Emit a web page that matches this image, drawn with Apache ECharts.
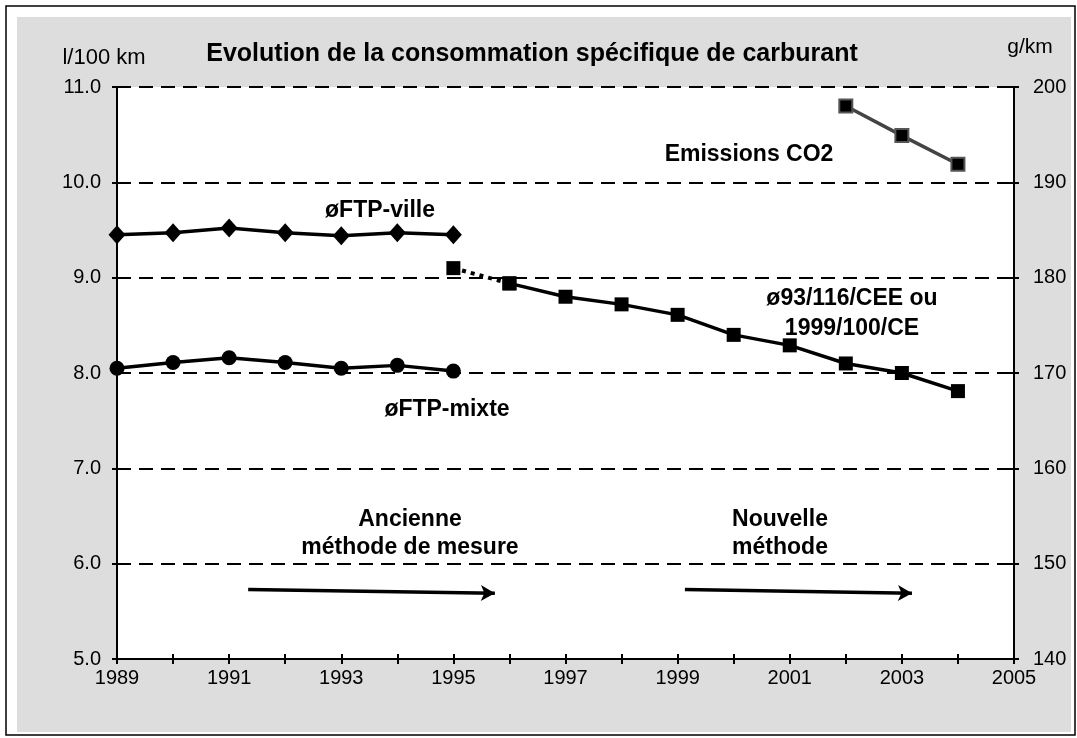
<!DOCTYPE html>
<html lang="fr">
<head>
    <meta charset="UTF-8">
    <title>Consommation spécifique de carburant</title>
    <script src="https://cdn.jsdelivr.net/npm/echarts@6.0.0/dist/echarts.min.js"></script>
    <style>
        html, body { margin: 0; padding: 0; background: #fff; }
        #chart { width: 1077px; height: 738px; }
    </style>
</head>
<body>
<div id="chart"></div>
<script>
    // données
    const oldYears = [1989, 1990, 1991, 1992, 1993, 1994, 1995];
    const ftpVille = [9.45, 9.47, 9.52, 9.47, 9.44, 9.47, 9.45];
    const ftpMixte = [8.05, 8.11, 8.16, 8.11, 8.05, 8.08, 8.02];

    const transYears = [1995, 1996];
    const transValues = [9.10, 8.94];

    const newYears = [1996, 1997, 1998, 1999, 2000, 2001, 2002, 2003, 2004];
    const newMethod = [8.94, 8.80, 8.72, 8.61, 8.40, 8.29, 8.10, 8.00, 7.81];

    const co2Years = [2002, 2003, 2004];
    const co2Values = [198.0, 194.9, 191.9];

    // flèches "ancienne / nouvelle méthode" (en coordonnées des axes)
    const arrowOld = [[1991.34, 5.73], [1995.74, 5.69]];
    const arrowNew = [[1999.13, 5.73], [2003.18, 5.69]];

    const leftTicks = [5, 11, 1];
    const rightTicks = [140, 200, 10];
    const xRange = [1989, 2005];

    const font = 'Liberation Sans, Arial, sans-serif';

    function pairs(xs, ys) {
        return xs.map((x, i) => [x, ys[i]]);
    }

    function note(x, y, text, size, bold) {
        return {
            type: 'text', x: x, y: y,
            style: {
                text: text, font: (bold ? 'bold ' : '') + size + 'px ' + font,
                fill: '#000', align: 'center', verticalAlign: 'middle'
            }
        };
    }

    const chart = echarts.init(document.getElementById('chart'), null, { renderer: 'canvas' });

    const tickStyle = { color: '#000', width: 2 };
    const axisLine = { show: true, lineStyle: { color: '#000', width: 2 } };

    const option = {
        animation: false,
        backgroundColor: '#fff',
        textStyle: { fontFamily: font },
        graphic: [
            {
                type: 'rect', z: -10, silent: true,
                shape: { x: 6, y: 6, width: 1069, height: 729 },
                style: { fill: '#fff', stroke: '#000', lineWidth: 1.5 }
            },
            {
                type: 'rect', z: -9, silent: true,
                shape: { x: 17, y: 17, width: 1054, height: 715 },
                style: { fill: '#dddddd' }
            },
            note(532, 54, 'Evolution de la consommation spécifique de carburant', 25, true),
            note(104, 58, 'l/100 km', 22, false),
            note(1030, 47, 'g/km', 21, false),
            note(749, 155, 'Emissions CO2', 23, true),
            note(380, 211, 'øFTP-ville', 23, true),
            note(852, 299, 'ø93/116/CEE ou', 23, true),
            note(852, 329, '1999/100/CE', 23, true),
            note(447, 410, 'øFTP-mixte', 23, true),
            note(410, 520, 'Ancienne', 23, true),
            note(410, 548, 'méthode de mesure', 23, true),
            note(780, 520, 'Nouvelle', 23, true),
            note(780, 548, 'méthode', 23, true)
        ],
        grid: {
            left: 117, right: 63, top: 87, bottom: 79,
            show: true, backgroundColor: '#fff', borderWidth: 0
        },
        xAxis: [
            {
                type: 'value', min: xRange[0], max: xRange[1], interval: 1,
                axisLine: axisLine,
                axisTick: { show: true, length: 5, lineStyle: tickStyle },
                splitLine: { show: false },
                axisLabel: {
                    color: '#000', fontSize: 20, margin: 9, fontFamily: font,
                    formatter: v => (v % 2 === 1 ? String(v) : '')
                }
            },
            {
                type: 'value', min: xRange[0], max: xRange[1], interval: 1, position: 'bottom',
                axisLine: { show: false },
                axisTick: { show: true, inside: true, length: 5, lineStyle: tickStyle },
                splitLine: { show: false },
                axisLabel: { show: false }
            }
        ],
        yAxis: [
            {
                type: 'value', min: leftTicks[0], max: leftTicks[1], interval: leftTicks[2], position: 'left',
                axisLine: axisLine,
                axisTick: { show: true, length: 5, lineStyle: tickStyle },
                splitLine: { show: true, lineStyle: { color: '#000', width: 2, type: [14, 8] } },
                axisLabel: { color: '#000', fontSize: 20, margin: 16, fontFamily: font, formatter: v => v.toFixed(1) }
            },
            {
                type: 'value', min: rightTicks[0], max: rightTicks[1], interval: rightTicks[2], position: 'right',
                axisLine: axisLine,
                axisTick: { show: true, length: 5, lineStyle: tickStyle },
                splitLine: { show: false },
                axisLabel: { color: '#000', fontSize: 20, margin: 19, fontFamily: font }
            },
            {
                type: 'value', min: leftTicks[0], max: leftTicks[1], interval: leftTicks[2], position: 'left',
                axisLine: { show: false },
                axisTick: { show: true, inside: true, length: 5, lineStyle: tickStyle },
                splitLine: { show: false },
                axisLabel: { show: false }
            },
            {
                type: 'value', min: rightTicks[0], max: rightTicks[1], interval: rightTicks[2], position: 'right',
                axisLine: { show: false },
                axisTick: { show: true, inside: true, length: 5, lineStyle: tickStyle },
                splitLine: { show: false },
                axisLabel: { show: false }
            }
        ],
        series: [
            {
                name: 'øFTP-ville', type: 'line', yAxisIndex: 0,
                data: pairs(oldYears, ftpVille),
                symbol: 'diamond', symbolSize: [17, 19],
                lineStyle: { color: '#000', width: 3.5 },
                itemStyle: { color: '#000' },
                markLine: {
                    silent: true, symbol: ['none', 'arrow'], symbolSize: [12, 14],
                    label: { show: false },
                    lineStyle: { color: '#000', width: 3.5, type: 'solid' },
                    data: [
                        [{ coord: arrowOld[0] }, { coord: arrowOld[1] }],
                        [{ coord: arrowNew[0] }, { coord: arrowNew[1] }]
                    ]
                }
            },
            {
                name: 'øFTP-mixte', type: 'line', yAxisIndex: 0,
                data: pairs(oldYears, ftpMixte),
                symbol: 'circle', symbolSize: 15,
                lineStyle: { color: '#000', width: 3.5 },
                itemStyle: { color: '#000' }
            },
            {
                name: 'transition', type: 'line', yAxisIndex: 0,
                data: pairs(transYears, transValues),
                symbol: 'rect', symbolSize: 14,
                lineStyle: { color: '#000', width: 4, type: [4, 5] },
                itemStyle: { color: '#000' }
            },
            {
                name: 'ø93/116/CEE ou 1999/100/CE', type: 'line', yAxisIndex: 0,
                data: pairs(newYears, newMethod),
                symbol: 'rect', symbolSize: 14,
                lineStyle: { color: '#000', width: 3.5 },
                itemStyle: { color: '#000' }
            },
            {
                name: 'Emissions CO2', type: 'line', yAxisIndex: 1,
                data: pairs(co2Years, co2Values),
                symbol: 'rect', symbolSize: 13,
                lineStyle: { color: '#444', width: 3.5 },
                itemStyle: { color: '#000', borderColor: '#555', borderWidth: 2 }
            }
        ]
    };

    chart.setOption(option);
</script>
</body>
</html>
